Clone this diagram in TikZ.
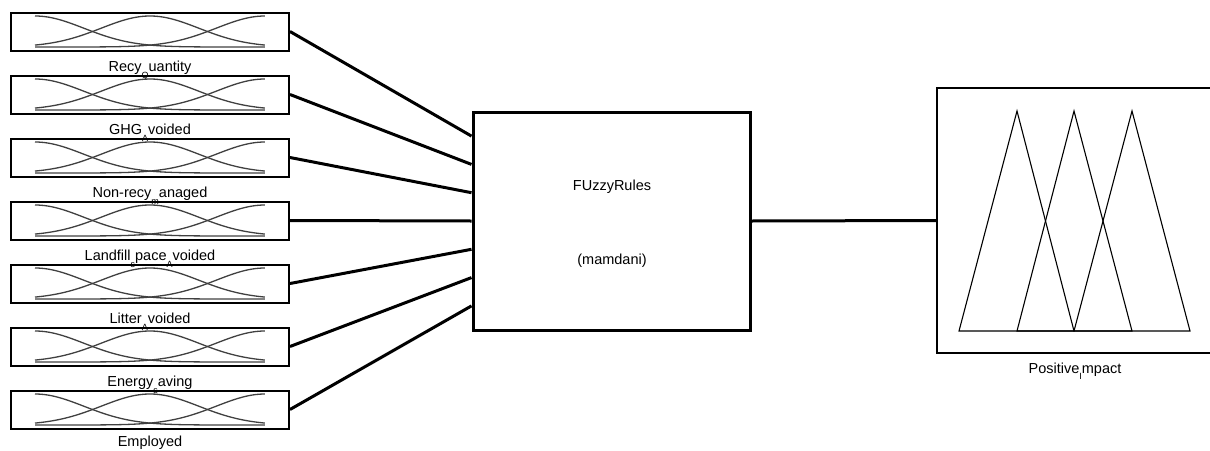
\documentclass[tikz,border=0pt]{standalone}
\usepackage{fontspec}
\setmainfont{Liberation Sans}
% lowered small letter, as the variable names are printed
\newcommand{\lowsub}[1]{\raisebox{-0.85ex}{\fontsize{9}{9}\selectfont #1}}
\tikzset{
  inbox/.style={draw, line width=2pt, minimum width=278pt, minimum height=38pt, inner sep=0pt},
  rulebox/.style={draw, line width=3pt, minimum width=277pt, minimum height=218pt, inner sep=0pt},
  outbox/.style={draw, line width=2pt, minimum width=276pt, minimum height=265pt, inner sep=0pt, anchor=west},
  link/.style={line width=3pt},
  mf/.style={line width=1.3pt, black!75},
  tri/.style={line width=1.1pt, black},
  lbl/.style={font=\fontsize{14.5}{16}\selectfont, inner sep=0pt, anchor=base}
}
\begin{document}
\begin{tikzpicture}[x=1pt,y=-1pt]
\useasboundingbox (0,0) rectangle (1210,450);
\clip (0,0) rectangle (1210,450);

% rule block
\node[rulebox] (rules) at (611.5,221) {};
\node[lbl] (rname) at (612,190) {FUzzyRules};
\node[lbl] (rtype) at (612,264) {(mamdani)};

% input variables with their Gaussian membership functions
\foreach \i/\lab/\off in {1/{Recy\lowsub{Q}uantity}/40,
                     2/{GHG\lowsub{A}voided}/40,
                     3/{Non-recy\lowsub{m}anaged}/40,
                     4/{Landfill\lowsub{s}pace\lowsub{A}voided}/40,
                     5/{Litter\lowsub{A}voided}/40,
                     6/{Energy\lowsub{s}aving}/40,
                     7/{Employed}/37} {
  \pgfmathsetmacro{\yc}{31.5+63*(\i-1)}
  \node[inbox] (in\i) at (150,\yc) {};
  \node[lbl] (lab\i) at (150,\yc+\off) {\lab};
  \draw[mf] plot[domain=0:2, samples=70, smooth]
    ({35+115*\x},{\yc-15.5+31*(1-exp(-(\x*\x)/0.3601))});
  \draw[mf] plot[domain=0:2, samples=70, smooth]
    ({35+115*\x},{\yc-15.5+31*(1-exp(-((\x-1)*(\x-1))/0.3601))});
  \draw[mf] plot[domain=0:2, samples=70, smooth]
    ({35+115*\x},{\yc-15.5+31*(1-exp(-((\x-2)*(\x-2))/0.3601))});
  \pgfmathsetmacro{\dy}{-(\i-4)*28.3}
  \draw[link] (in\i.east) -- ([yshift=\dy pt]rules.west);
}

% output variable with triangular membership functions
\node[outbox] (out) at (936,220.5) {};
\node[lbl] (olab) at (1075,373) {Positive\lowsub{I}mpact};
\draw[link] (rules.east) -- (out.west);
\draw[tri] (959,331) -- (1017,111) -- (1074,331) -- cycle;
\draw[tri] (1017,331) -- (1074,111) -- (1132,331) -- cycle;
\draw[tri] (1074,331) -- (1132,111) -- (1190,331) -- cycle;
\end{tikzpicture}
\end{document}
